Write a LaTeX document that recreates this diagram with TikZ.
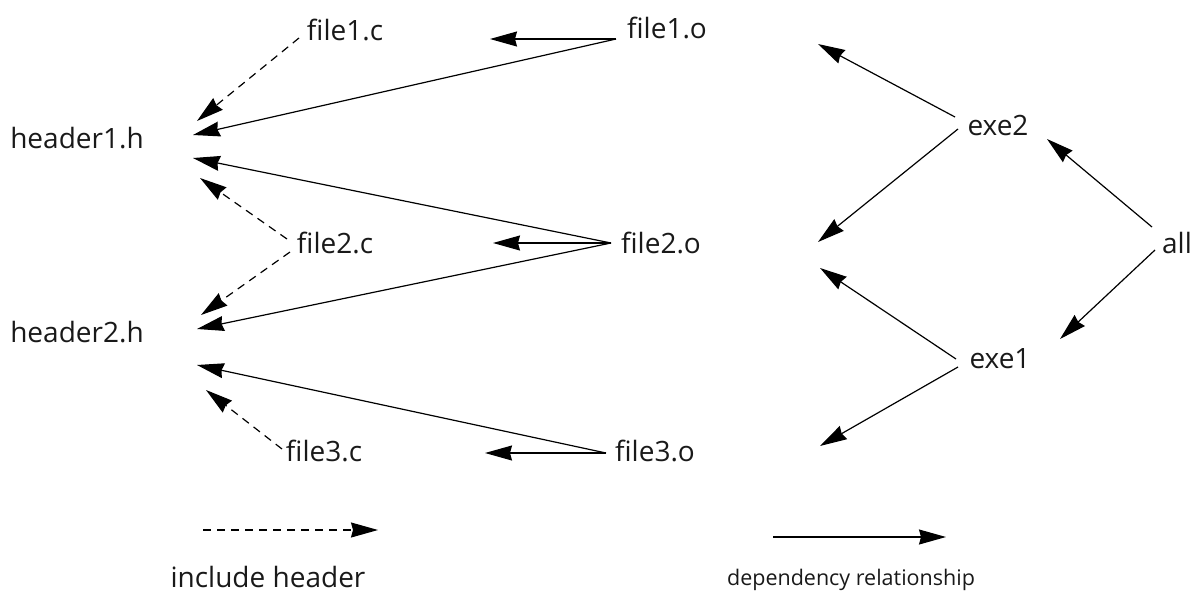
\documentclass[tikz,border=0pt]{standalone}
\usepackage{fontspec}
\setmainfont{Open Sans}
\usetikzlibrary{arrows.meta}
\begin{document}
\begin{tikzpicture}[x=1pt,y=-1pt,
  lbl/.style={inner sep=0pt, anchor=base, font=\fontsize{28}{32}\selectfont, text=black!90},
  small/.style={lbl, font=\fontsize{21.5}{24}\selectfont},
  dep/.style={-{Stealth[length=27pt,width=15pt,inset=2pt]}, line width=1.2pt},
  inc/.style={dep, dash pattern=on 8pt off 6pt}]
\useasboundingbox (0,0) rectangle (1200,592);

% file labels
\node[lbl] (f1c) at (345,40)  {file1.c};
\node[lbl] (f1o) at (667,38)  {file1.o};
\node[lbl] (h1)  at (77,148)  {header1.h};
\node[lbl] (exe2) at (998,135) {exe2};
\node[lbl] (f2c) at (335,253) {file2.c};
\node[lbl] (f2o) at (661,253) {file2.o};
\node[lbl] (all) at (1177,253) {all};
\node[lbl] (h2)  at (77,342)  {header2.h};
\node[lbl] (exe1) at (1000,368) {exe1};
\node[lbl] (f3c) at (324,461) {file3.c};
\node[lbl] (f3o) at (655,461) {file3.o};
\node[lbl] (linc) at (268,587) {include header};
\node[small] (ldep) at (851,585) {dependency relationship};

% arrow ends
\coordinate (f1cs) at (299,38);  \coordinate (f1ct) at (197,121);
\coordinate (f2cu) at (287,239); \coordinate (f2ct) at (200,178);
\coordinate (f2cd) at (290,252); \coordinate (f2cb) at (201,315);
\coordinate (f3cs) at (282,449); \coordinate (f3ct) at (206,390);

\coordinate (f1os) at (616,39);  \coordinate (f1ot) at (490,39);
\coordinate (h1a)  at (193,135);
\coordinate (f2os) at (611,243); \coordinate (f2ot) at (493,243);
\coordinate (h1b)  at (193,158);  \coordinate (h2a) at (197,329);
\coordinate (f3os) at (606,453); \coordinate (f3ot) at (485,453);
\coordinate (h2b)  at (197,365);

\coordinate (e2u) at (955,117);  \coordinate (e2ut) at (818,44);
\coordinate (e2d) at (958,129);  \coordinate (e2dt) at (818,242);
\coordinate (alu) at (1152,227); \coordinate (alut) at (1047,139);
\coordinate (ald) at (1155,250); \coordinate (aldt) at (1060,339);
\coordinate (e1u) at (956,359);  \coordinate (e1ut) at (820,268);
\coordinate (e1d) at (958,367);  \coordinate (e1dt) at (820,446);

% legend ends
\coordinate (lis) at (203,530); \coordinate (lit) at (378,530);
\coordinate (lds) at (773,537); \coordinate (ldt) at (946,537);

% include relations
\draw[inc] (f1cs) -- (f1ct);
\draw[inc] (f2cu) -- (f2ct);
\draw[inc] (f2cd) -- (f2cb);
\draw[inc] (f3cs) -- (f3ct);

% object file dependencies
\draw[dep] (f1os) -- (f1ot);
\draw[dep] (f1os) -- (h1a);
\draw[dep] (f2os) -- (f2ot);
\draw[dep] (f2os) -- (h1b);
\draw[dep] (f2os) -- (h2a);
\draw[dep] (f3os) -- (f3ot);
\draw[dep] (f3os) -- (h2b);

% executables and the all target
\draw[dep] (e2u) -- (e2ut);
\draw[dep] (e2d) -- (e2dt);
\draw[dep] (alu) -- (alut);
\draw[dep] (ald) -- (aldt);
\draw[dep] (e1u) -- (e1ut);
\draw[dep] (e1d) -- (e1dt);

% legend
\draw[inc] (lis) -- (lit);
\draw[dep] (lds) -- (ldt);
\end{tikzpicture}
\end{document}
